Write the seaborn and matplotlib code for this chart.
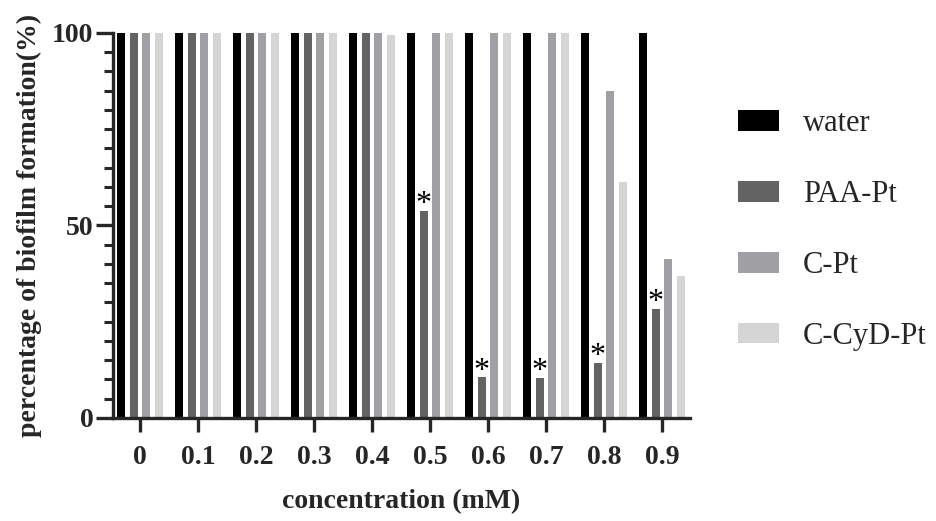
import numpy as np
import pandas as pd
import seaborn as sns
import matplotlib.pyplot as plt
from matplotlib.patches import Patch
from matplotlib.ticker import MultipleLocator

concentrations = ["0", "0.1", "0.2", "0.3", "0.4", "0.5", "0.6", "0.7", "0.8", "0.9"]
series_names = ["water", "PAA-Pt", "C-Pt", "C-CyD-Pt"]

water = [100, 100, 100, 100, 100, 100, 100, 100, 100, 100]
paa_pt = [100, 100, 100, 100, 100, 53.8, 10.6, 10.4, 14.3, 28.3]
c_pt = [100, 100, 100, 100, 100, 100, 100, 100, 85, 41.3]
c_cyd_pt = [100, 100, 100, 100, 99.5, 100, 100, 100, 61.3, 36.9]

# significance marks on PAA-Pt
paa_star = [False, False, False, False, False, True, True, True, True, True]

colors = ["#000000", "#636363", "#a0a0a4", "#d5d5d5"]

df = pd.DataFrame({
    "concentration": concentrations * 4,
    "group": np.repeat(series_names, len(concentrations)),
    "value": water + paa_pt + c_pt + c_cyd_pt,
})

sns.set_style("ticks")
plt.rcParams['font.family'] = ['Liberation Serif', 'DejaVu Serif']

fig = plt.figure(figsize=(9.36, 5.21), dpi=100)
ax = fig.add_axes([0.1207, 0.198, 0.6165, 0.739])

sns.barplot(data=df, x="concentration", y="value", hue="group",
            order=concentrations, hue_order=series_names, palette=colors,
            width=0.862, gap=0.37, saturation=1, errorbar=None,
            edgecolor="none", linewidth=0, ax=ax, legend=False)

# stars over the PAA-Pt bars
for bar, star in zip(ax.containers[1], paa_star):
    if star:
        ax.text(bar.get_x() + bar.get_width() / 2, bar.get_height() - 2.2, "*",
                ha="center", va="bottom", fontsize=23, color="black")

ax.set_xlim(-0.466, 9.48)
ax.set_ylim(0, 100)
ax.yaxis.set_major_locator(MultipleLocator(50))
ax.yaxis.set_minor_locator(MultipleLocator(5))

sns.despine(ax=ax)
for s in ["left", "bottom"]:
    ax.spines[s].set_linewidth(2.4)
ax.tick_params(axis="y", which="major", length=12, width=2.4, labelsize=20, pad=2)
ax.tick_params(axis="y", which="minor", length=6.5, width=2.2)
ax.tick_params(axis="x", which="major", length=10, width=2.4, labelsize=20, pad=9.5)
for lab in ax.get_xticklabels() + ax.get_yticklabels():
    lab.set_fontweight("bold")

ax.set_xlabel("concentration (mM)", fontsize=20, fontweight="bold", labelpad=14)
ax.set_ylabel("percentage of biofilm formation(%)", fontsize=20, fontweight="bold", labelpad=7)

handles = [Patch(facecolor=c, edgecolor="none", label=n) for c, n in zip(colors, series_names)]
fig.legend(handles=handles, loc="upper left", bbox_to_anchor=(0.7885, 0.790),
           frameon=False, fontsize=22, handlelength=1.34, handleheight=0.65,
           handletextpad=0.78, labelspacing=1.37, borderpad=0, borderaxespad=0)

fig.savefig("out.png", dpi=100)
